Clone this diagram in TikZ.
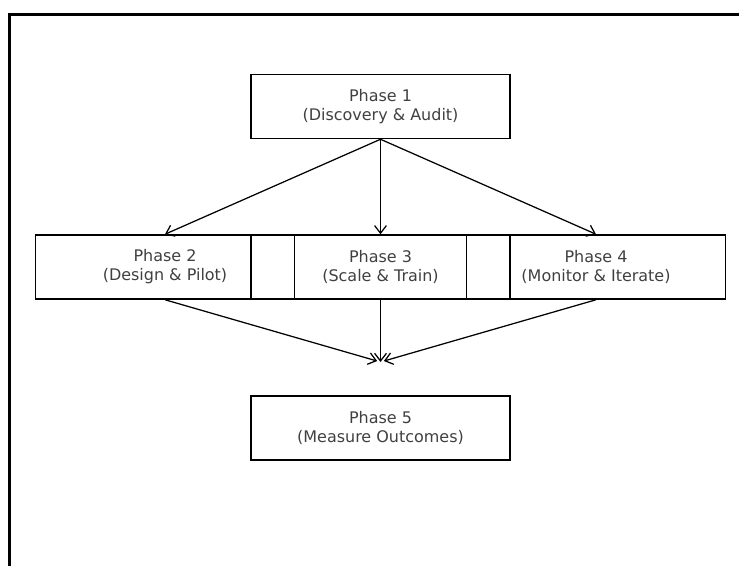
\documentclass[tikz,border=0pt]{standalone}
\usepackage{fontspec}
\setmainfont{DejaVu Sans}
\usetikzlibrary{arrows.meta}
\definecolor{labelgray}{gray}{0.25}
\tikzset{
  phasebox/.style={draw=black, line width=1.1pt, minimum width=259*0.72pt, minimum height=64*0.72pt,
    inner sep=0pt, align=center, text=labelgray, font=\fontsize{11.5}{13.7}\selectfont},
  flow/.style={draw=black, line width=0.9pt, -{Straight Barb[length=5.5pt,width=8.5pt,line width=0.9pt]}},
}
\begin{document}
\begin{tikzpicture}[x=0.72pt, y=-0.72pt]
  \useasboundingbox (0,0) rectangle (739,565);
  \begin{scope}
    \clip (0,0) rectangle (739,565);
    \draw[line width=1.5pt] (9.5,14.5) rectangle (760,590);
  \end{scope}

  \node[phasebox] (p1) at (380.5,106.5) {Phase 1\\(Discovery \& Audit)};
  \node[phasebox] (p2) at (165,267) {Phase 2\\(Design \& Pilot)};
  \node[phasebox] (p3) at (380.5,267) {Phase 3\\(Scale \& Train)};
  \node[phasebox] (p4) at (596,267) {Phase 4\\(Monitor \& Iterate)};
  \node[phasebox] (p5) at (380.5,428) {Phase 5\\(Measure Outcomes)};

  \coordinate (meet) at (380.5,362);

  \draw[flow] (p1.south) -- (p2.north);
  \draw[flow] (p1.south) -- (p3.north);
  \draw[flow] (p1.south) -- (p4.north);
  \draw[flow, shorten >=2.5pt] (p2.south) -- (meet);
  \draw[flow] (p3.south) -- (meet);
  \draw[flow, shorten >=2.5pt] (p4.south) -- (meet);
\end{tikzpicture}
\end{document}
